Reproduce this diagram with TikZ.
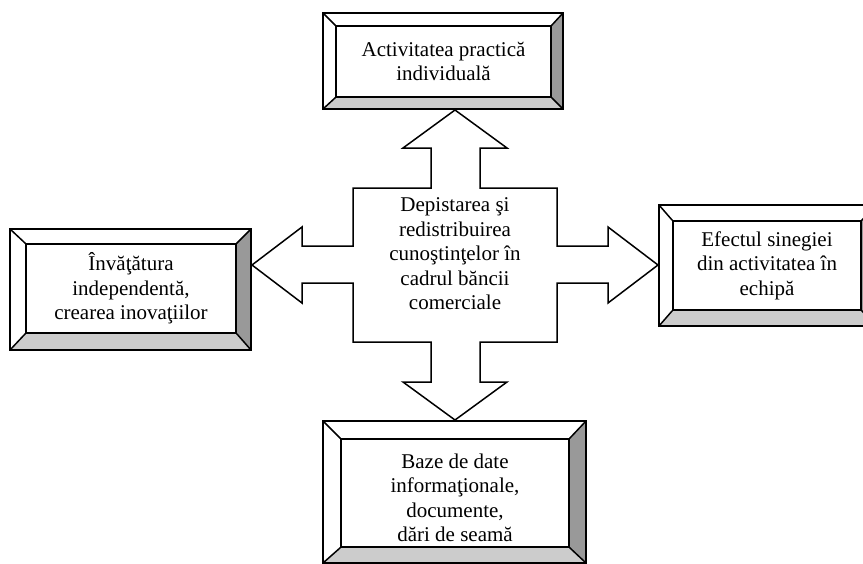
\documentclass[tikz,border=0pt]{standalone}
\usepackage{fontspec}
\setmainfont{Liberation Serif}
\definecolor{bevelside}{gray}{0.6}
\definecolor{bevelbase}{gray}{0.8}

\begin{document}
\begin{tikzpicture}[x=1pt,y=1pt,line width=1.5pt]
    \tikzstyle{every node}+=[inner sep=0pt, align=center, font=\fontsize{21}{24.5}\selectfont]
    \tikzstyle{face}=[draw, fill=white]
    \useasboundingbox (0,0) rectangle (863,-563);
    % cross of four arrows
    \draw [black, fill=white, line join=miter] (455,-110) -- (507,-148) -- (480,-148) -- (480,-188) -- (557,-188) -- (557,-246) -- (608,-246) -- (608,-227) -- (658,-265) -- (608,-303) -- (608,-283) -- (557,-283) -- (557,-342) -- (480,-342) -- (480,-382) -- (507,-382) -- (455,-420) -- (403,-382) -- (431,-382) -- (431,-342) -- (353,-342) -- (353,-283) -- (302,-283) -- (302,-303) -- (252,-265) -- (302,-227) -- (302,-246) -- (353,-246) -- (353,-188) -- (431,-188) -- (431,-148) -- (403,-148) -- cycle;
    \node (centru) at (455,-254) {Depistarea şi\\redistribuirea\\cunoştinţelor în\\cadrul băncii\\comerciale};
    % top box
    \fill [bevelside] (563,-13) -- (563,-109) -- (551,-97) -- (551,-26) -- cycle;
    \fill [bevelbase] (323,-109) -- (563,-109) -- (551,-97) -- (336,-97) -- cycle;
    \draw [black] (323,-13) rectangle (563,-109);
    \node [face, minimum width=215pt, minimum height=71pt] (practica) at (443.5,-61.5) {Activitatea practică\\individuală};
    \draw [black] (323,-13) -- (practica.north west);
    \draw [black] (563,-13) -- (practica.north east);
    \draw [black] (563,-109) -- (practica.south east);
    \draw [black] (323,-109) -- (practica.south west);
    % left box
    \fill [bevelside] (251,-229) -- (251,-350) -- (236,-333) -- (236,-244) -- cycle;
    \fill [bevelbase] (10,-350) -- (251,-350) -- (236,-333) -- (26,-333) -- cycle;
    \draw [black] (10,-229) rectangle (251,-350);
    \node [face, minimum width=210pt, minimum height=89pt] (invatatura) at (131,-288.5) {Învăţătura\\independentă,\\crearea inovaţiilor};
    \draw [black] (10,-229) -- (invatatura.north west);
    \draw [black] (251,-229) -- (invatatura.north east);
    \draw [black] (251,-350) -- (invatatura.south east);
    \draw [black] (10,-350) -- (invatatura.south west);
    % right box
    \fill [bevelside] (877,-205) -- (877,-326) -- (861,-310) -- (861,-221) -- cycle;
    \fill [bevelbase] (659,-326) -- (877,-326) -- (861,-310) -- (673,-310) -- cycle;
    \draw [black] (659,-205) rectangle (877,-326);
    \node [face, minimum width=188pt, minimum height=89pt] (sinergie) at (767,-265.5) {Efectul sinegiei\\din activitatea în\\echipă};
    \draw [black] (659,-205) -- (sinergie.north west);
    \draw [black] (877,-205) -- (sinergie.north east);
    \draw [black] (877,-326) -- (sinergie.south east);
    \draw [black] (659,-326) -- (sinergie.south west);
    % bottom box
    \fill [bevelside] (586,-421) -- (586,-563) -- (569,-547) -- (569,-439) -- cycle;
    \fill [bevelbase] (323,-563) -- (586,-563) -- (569,-547) -- (341,-547) -- cycle;
    \draw [black] (323,-421) rectangle (586,-563);
    \node [face, minimum width=228pt, minimum height=108pt] (baze) at (455,-493) {};
    \node (bazetext) at (455,-498) {Baze de date\\informaţionale,\\documente,\\dări de seamă};
    \draw [black] (323,-421) -- (baze.north west);
    \draw [black] (586,-421) -- (baze.north east);
    \draw [black] (586,-563) -- (baze.south east);
    \draw [black] (323,-563) -- (baze.south west);
\end{tikzpicture}
\end{document}
